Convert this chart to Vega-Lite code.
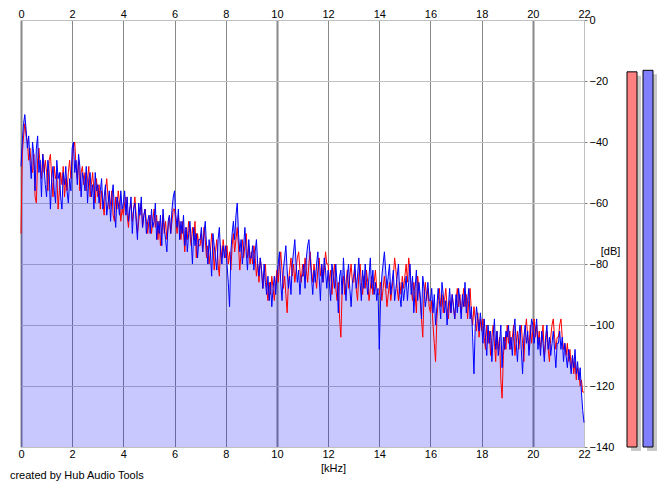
{
  "$schema": "https://vega.github.io/schema/vega-lite/v6.json",
  "background": "white",
  "padding": {"left": 9, "top": 8, "right": 0, "bottom": 0},
  "spacing": 38,
  "bounds": "flush",
  "title": {
    "text": "created by Hub Audio Tools",
    "orient": "bottom",
    "anchor": "start",
    "frame": "bounds",
    "font": "Liberation Sans",
    "fontSize": 11,
    "fontWeight": "normal",
    "color": "#000000",
    "offset": -4,
    "dx": -8
  },
  "hconcat": [
    {
      "width": 563,
      "height": 427,
      "data": {
        "values": [
          {"f":0,"b":-48,"r":-70},{"f":0.05,"b":-40,"r":-44},{"f":0.1,"b":-34,"r":-38},{"f":0.15,"b":-31,"r":-34},{"f":0.2,"b":-36,"r":-38},{"f":0.25,"b":-42,"r":-40},{"f":0.3,"b":-38,"r":-46},{"f":0.35,"b":-46,"r":-42},{"f":0.4,"b":-52,"r":-48},{"f":0.45,"b":-40,"r":-50},
          {"f":0.5,"b":-44,"r":-44},{"f":0.55,"b":-56,"r":-58},{"f":0.6,"b":-42,"r":-60},{"f":0.65,"b":-38,"r":-46},{"f":0.7,"b":-50,"r":-42},{"f":0.75,"b":-46,"r":-48},{"f":0.8,"b":-58,"r":-52},{"f":0.85,"b":-44,"r":-44},{"f":0.9,"b":-48,"r":-50},{"f":0.95,"b":-54,"r":-46},
          {"f":1,"b":-58,"r":-50},{"f":1.05,"b":-46,"r":-56},{"f":1.1,"b":-50,"r":-46},{"f":1.15,"b":-62,"r":-44},{"f":1.2,"b":-52,"r":-52},{"f":1.25,"b":-48,"r":-58},{"f":1.3,"b":-56,"r":-48},{"f":1.35,"b":-60,"r":-52},{"f":1.4,"b":-46,"r":-50},{"f":1.45,"b":-52,"r":-62},
          {"f":1.5,"b":-50,"r":-56},{"f":1.55,"b":-58,"r":-50},{"f":1.6,"b":-62,"r":-54},{"f":1.65,"b":-50,"r":-48},{"f":1.7,"b":-54,"r":-58},{"f":1.75,"b":-48,"r":-52},{"f":1.8,"b":-56,"r":-56},{"f":1.85,"b":-60,"r":-50},{"f":1.9,"b":-52,"r":-46},{"f":1.95,"b":-56,"r":-52},
          {"f":2,"b":-42,"r":-46},{"f":2.05,"b":-40,"r":-42},{"f":2.1,"b":-50,"r":-40},{"f":2.15,"b":-46,"r":-48},{"f":2.2,"b":-54,"r":-52},{"f":2.25,"b":-44,"r":-46},{"f":2.3,"b":-48,"r":-56},{"f":2.35,"b":-58,"r":-50},{"f":2.4,"b":-50,"r":-48},{"f":2.45,"b":-52,"r":-54},
          {"f":2.5,"b":-56,"r":-50},{"f":2.55,"b":-48,"r":-56},{"f":2.6,"b":-60,"r":-52},{"f":2.65,"b":-52,"r":-48},{"f":2.7,"b":-50,"r":-58},{"f":2.75,"b":-58,"r":-54},{"f":2.8,"b":-54,"r":-50},{"f":2.85,"b":-62,"r":-56},{"f":2.9,"b":-50,"r":-60},{"f":2.95,"b":-56,"r":-52},
          {"f":3,"b":-54,"r":-58},{"f":3.05,"b":-60,"r":-54},{"f":3.1,"b":-56,"r":-62},{"f":3.15,"b":-52,"r":-56},{"f":3.2,"b":-62,"r":-60},{"f":3.25,"b":-58,"r":-64},{"f":3.3,"b":-54,"r":-56},{"f":3.35,"b":-64,"r":-52},{"f":3.4,"b":-60,"r":-58},{"f":3.45,"b":-56,"r":-62},
          {"f":3.5,"b":-66,"r":-60},{"f":3.55,"b":-58,"r":-56},{"f":3.6,"b":-54,"r":-64},{"f":3.65,"b":-62,"r":-66},{"f":3.7,"b":-68,"r":-58},{"f":3.75,"b":-58,"r":-62},{"f":3.8,"b":-60,"r":-56},{"f":3.85,"b":-64,"r":-60},{"f":3.9,"b":-56,"r":-66},{"f":3.95,"b":-62,"r":-62},
          {"f":4,"b":-60,"r":-64},{"f":4.05,"b":-56,"r":-60},{"f":4.1,"b":-64,"r":-58},{"f":4.15,"b":-58,"r":-64},{"f":4.2,"b":-66,"r":-68},{"f":4.25,"b":-62,"r":-62},{"f":4.3,"b":-58,"r":-60},{"f":4.35,"b":-70,"r":-66},{"f":4.4,"b":-62,"r":-62},{"f":4.45,"b":-60,"r":-58},
          {"f":4.5,"b":-66,"r":-64},{"f":4.55,"b":-72,"r":-70},{"f":4.6,"b":-60,"r":-66},{"f":4.65,"b":-64,"r":-62},{"f":4.7,"b":-58,"r":-60},{"f":4.75,"b":-68,"r":-68},{"f":4.8,"b":-64,"r":-64},{"f":4.85,"b":-62,"r":-62},{"f":4.9,"b":-70,"r":-66},{"f":4.95,"b":-66,"r":-70},
          {"f":5,"b":-64,"r":-66},{"f":5.05,"b":-70,"r":-64},{"f":5.1,"b":-62,"r":-70},{"f":5.15,"b":-68,"r":-66},{"f":5.2,"b":-66,"r":-62},{"f":5.25,"b":-60,"r":-68},{"f":5.3,"b":-72,"r":-64},{"f":5.35,"b":-66,"r":-72},{"f":5.4,"b":-70,"r":-66},{"f":5.45,"b":-64,"r":-74},
          {"f":5.5,"b":-74,"r":-68},{"f":5.55,"b":-62,"r":-64},{"f":5.6,"b":-68,"r":-70},{"f":5.65,"b":-72,"r":-66},{"f":5.7,"b":-76,"r":-72},{"f":5.75,"b":-66,"r":-68},{"f":5.8,"b":-64,"r":-64},{"f":5.85,"b":-70,"r":-70},{"f":5.9,"b":-62,"r":-66},{"f":5.95,"b":-58,"r":-62},
          {"f":6,"b":-56,"r":-62},{"f":6.05,"b":-64,"r":-66},{"f":6.1,"b":-68,"r":-70},{"f":6.15,"b":-62,"r":-64},{"f":6.2,"b":-72,"r":-68},{"f":6.25,"b":-66,"r":-72},{"f":6.3,"b":-70,"r":-66},{"f":6.35,"b":-64,"r":-70},{"f":6.4,"b":-74,"r":-76},{"f":6.45,"b":-68,"r":-68},
          {"f":6.5,"b":-76,"r":-72},{"f":6.55,"b":-70,"r":-66},{"f":6.6,"b":-66,"r":-70},{"f":6.65,"b":-72,"r":-74},{"f":6.7,"b":-80,"r":-68},{"f":6.75,"b":-68,"r":-72},{"f":6.8,"b":-74,"r":-66},{"f":6.85,"b":-70,"r":-78},{"f":6.9,"b":-78,"r":-70},{"f":6.95,"b":-72,"r":-74},
          {"f":7,"b":-72,"r":-74},{"f":7.05,"b":-68,"r":-70},{"f":7.1,"b":-76,"r":-76},{"f":7.15,"b":-70,"r":-68},{"f":7.2,"b":-66,"r":-72},{"f":7.25,"b":-74,"r":-78},{"f":7.3,"b":-80,"r":-74},{"f":7.35,"b":-72,"r":-80},{"f":7.4,"b":-76,"r":-76},{"f":7.45,"b":-84,"r":-70},
          {"f":7.5,"b":-70,"r":-74},{"f":7.55,"b":-74,"r":-82},{"f":7.6,"b":-78,"r":-76},{"f":7.65,"b":-82,"r":-72},{"f":7.7,"b":-72,"r":-80},{"f":7.75,"b":-68,"r":-84},{"f":7.8,"b":-76,"r":-74},{"f":7.85,"b":-80,"r":-78},{"f":7.9,"b":-74,"r":-72},{"f":7.95,"b":-78,"r":-76},
          {"f":8,"b":-74,"r":-78},{"f":8.05,"b":-80,"r":-74},{"f":8.1,"b":-86,"r":-80},{"f":8.15,"b":-94,"r":-76},{"f":8.2,"b":-76,"r":-82},{"f":8.25,"b":-70,"r":-74},{"f":8.3,"b":-66,"r":-70},{"f":8.35,"b":-72,"r":-76},{"f":8.4,"b":-64,"r":-72},{"f":8.45,"b":-60,"r":-68},
          {"f":8.5,"b":-70,"r":-74},{"f":8.55,"b":-76,"r":-82},{"f":8.6,"b":-72,"r":-76},{"f":8.65,"b":-80,"r":-72},{"f":8.7,"b":-74,"r":-78},{"f":8.75,"b":-68,"r":-74},{"f":8.8,"b":-76,"r":-70},{"f":8.85,"b":-82,"r":-78},{"f":8.9,"b":-72,"r":-74},{"f":8.95,"b":-78,"r":-80},
          {"f":9,"b":-78,"r":-76},{"f":9.05,"b":-74,"r":-80},{"f":9.1,"b":-82,"r":-74},{"f":9.15,"b":-76,"r":-78},{"f":9.2,"b":-72,"r":-84},{"f":9.25,"b":-80,"r":-80},{"f":9.3,"b":-84,"r":-86},{"f":9.35,"b":-78,"r":-78},{"f":9.4,"b":-82,"r":-82},{"f":9.45,"b":-88,"r":-88},
          {"f":9.5,"b":-80,"r":-84},{"f":9.55,"b":-86,"r":-80},{"f":9.6,"b":-90,"r":-88},{"f":9.65,"b":-84,"r":-92},{"f":9.7,"b":-92,"r":-86},{"f":9.75,"b":-86,"r":-90},{"f":9.8,"b":-94,"r":-84},{"f":9.85,"b":-88,"r":-88},{"f":9.9,"b":-84,"r":-92},{"f":9.95,"b":-90,"r":-86},
          {"f":10,"b":-84,"r":-82},{"f":10.05,"b":-80,"r":-86},{"f":10.1,"b":-76,"r":-80},{"f":10.15,"b":-86,"r":-76},{"f":10.2,"b":-92,"r":-82},{"f":10.25,"b":-82,"r":-88},{"f":10.3,"b":-78,"r":-84},{"f":10.35,"b":-74,"r":-90},{"f":10.4,"b":-82,"r":-96},{"f":10.45,"b":-88,"r":-86},
          {"f":10.5,"b":-84,"r":-82},{"f":10.55,"b":-90,"r":-78},{"f":10.6,"b":-80,"r":-84},{"f":10.65,"b":-76,"r":-80},{"f":10.7,"b":-72,"r":-86},{"f":10.75,"b":-80,"r":-82},{"f":10.8,"b":-86,"r":-78},{"f":10.85,"b":-82,"r":-76},{"f":10.9,"b":-90,"r":-82},{"f":10.95,"b":-84,"r":-86},
          {"f":11,"b":-84,"r":-80},{"f":11.05,"b":-80,"r":-84},{"f":11.1,"b":-88,"r":-78},{"f":11.15,"b":-78,"r":-82},{"f":11.2,"b":-74,"r":-86},{"f":11.25,"b":-72,"r":-80},{"f":11.3,"b":-78,"r":-76},{"f":11.35,"b":-84,"r":-82},{"f":11.4,"b":-90,"r":-86},{"f":11.45,"b":-82,"r":-80},
          {"f":11.5,"b":-86,"r":-84},{"f":11.55,"b":-80,"r":-88},{"f":11.6,"b":-76,"r":-82},{"f":11.65,"b":-84,"r":-78},{"f":11.7,"b":-92,"r":-84},{"f":11.75,"b":-80,"r":-80},{"f":11.8,"b":-86,"r":-86},{"f":11.85,"b":-78,"r":-82},{"f":11.9,"b":-82,"r":-76},{"f":11.95,"b":-88,"r":-80},
          {"f":12,"b":-82,"r":-80},{"f":12.05,"b":-86,"r":-86},{"f":12.1,"b":-92,"r":-82},{"f":12.15,"b":-80,"r":-90},{"f":12.2,"b":-84,"r":-84},{"f":12.25,"b":-88,"r":-80},{"f":12.3,"b":-80,"r":-88},{"f":12.35,"b":-86,"r":-92},{"f":12.4,"b":-96,"r":-86},{"f":12.45,"b":-84,"r":-98},
          {"f":12.5,"b":-82,"r":-104},{"f":12.55,"b":-90,"r":-88},{"f":12.6,"b":-78,"r":-84},{"f":12.65,"b":-86,"r":-90},{"f":12.7,"b":-92,"r":-86},{"f":12.75,"b":-84,"r":-82},{"f":12.8,"b":-80,"r":-88},{"f":12.85,"b":-88,"r":-84},{"f":12.9,"b":-94,"r":-80},{"f":12.95,"b":-86,"r":-86},
          {"f":13,"b":-84,"r":-86},{"f":13.05,"b":-80,"r":-82},{"f":13.1,"b":-88,"r":-88},{"f":13.15,"b":-84,"r":-92},{"f":13.2,"b":-78,"r":-84},{"f":13.25,"b":-86,"r":-80},{"f":13.3,"b":-92,"r":-86},{"f":13.35,"b":-82,"r":-90},{"f":13.4,"b":-88,"r":-84},{"f":13.45,"b":-80,"r":-88},
          {"f":13.5,"b":-86,"r":-82},{"f":13.55,"b":-90,"r":-86},{"f":13.6,"b":-84,"r":-92},{"f":13.65,"b":-78,"r":-88},{"f":13.7,"b":-88,"r":-84},{"f":13.75,"b":-82,"r":-90},{"f":13.8,"b":-90,"r":-86},{"f":13.85,"b":-86,"r":-82},{"f":13.9,"b":-92,"r":-88},{"f":13.95,"b":-88,"r":-90},
          {"f":14,"b":-108,"r":-90},{"f":14.05,"b":-92,"r":-86},{"f":14.1,"b":-84,"r":-92},{"f":14.15,"b":-80,"r":-88},{"f":14.2,"b":-76,"r":-84},{"f":14.25,"b":-82,"r":-88},{"f":14.3,"b":-88,"r":-94},{"f":14.35,"b":-84,"r":-90},{"f":14.4,"b":-80,"r":-86},{"f":14.45,"b":-90,"r":-92},
          {"f":14.5,"b":-86,"r":-88},{"f":14.55,"b":-82,"r":-84},{"f":14.6,"b":-92,"r":-78},{"f":14.65,"b":-88,"r":-82},{"f":14.7,"b":-84,"r":-88},{"f":14.75,"b":-80,"r":-92},{"f":14.8,"b":-90,"r":-86},{"f":14.85,"b":-94,"r":-90},{"f":14.9,"b":-86,"r":-84},{"f":14.95,"b":-92,"r":-88},
          {"f":15,"b":-88,"r":-84},{"f":15.05,"b":-84,"r":-80},{"f":15.1,"b":-92,"r":-86},{"f":15.15,"b":-86,"r":-78},{"f":15.2,"b":-80,"r":-82},{"f":15.25,"b":-90,"r":-88},{"f":15.3,"b":-84,"r":-92},{"f":15.35,"b":-96,"r":-86},{"f":15.4,"b":-88,"r":-90},{"f":15.45,"b":-82,"r":-96},
          {"f":15.5,"b":-92,"r":-84},{"f":15.55,"b":-86,"r":-88},{"f":15.6,"b":-90,"r":-92},{"f":15.65,"b":-98,"r":-98},{"f":15.7,"b":-84,"r":-104},{"f":15.75,"b":-88,"r":-90},{"f":15.8,"b":-94,"r":-86},{"f":15.85,"b":-90,"r":-92},{"f":15.9,"b":-86,"r":-88},{"f":15.95,"b":-92,"r":-94},
          {"f":16,"b":-92,"r":-96},{"f":16.05,"b":-88,"r":-92},{"f":16.1,"b":-96,"r":-100},{"f":16.15,"b":-90,"r":-106},{"f":16.2,"b":-100,"r":-112},{"f":16.25,"b":-94,"r":-98},{"f":16.3,"b":-88,"r":-92},{"f":16.35,"b":-92,"r":-88},{"f":16.4,"b":-98,"r":-94},{"f":16.45,"b":-86,"r":-90},
          {"f":16.5,"b":-90,"r":-96},{"f":16.55,"b":-96,"r":-92},{"f":16.6,"b":-92,"r":-88},{"f":16.65,"b":-100,"r":-94},{"f":16.7,"b":-94,"r":-98},{"f":16.75,"b":-88,"r":-92},{"f":16.8,"b":-96,"r":-96},{"f":16.85,"b":-90,"r":-90},{"f":16.9,"b":-94,"r":-94},{"f":16.95,"b":-98,"r":-98},
          {"f":17,"b":-90,"r":-92},{"f":17.05,"b":-96,"r":-88},{"f":17.1,"b":-88,"r":-94},{"f":17.15,"b":-92,"r":-90},{"f":17.2,"b":-98,"r":-96},{"f":17.25,"b":-90,"r":-92},{"f":17.3,"b":-94,"r":-88},{"f":17.35,"b":-86,"r":-94},{"f":17.4,"b":-96,"r":-90},{"f":17.45,"b":-92,"r":-98},
          {"f":17.5,"b":-88,"r":-92},{"f":17.55,"b":-98,"r":-88},{"f":17.6,"b":-94,"r":-96},{"f":17.65,"b":-104,"r":-100},{"f":17.7,"b":-116,"r":-94},{"f":17.75,"b":-100,"r":-98},{"f":17.8,"b":-94,"r":-102},{"f":17.85,"b":-98,"r":-96},{"f":17.9,"b":-102,"r":-104},{"f":17.95,"b":-96,"r":-98},
          {"f":18,"b":-100,"r":-102},{"f":18.05,"b":-106,"r":-98},{"f":18.1,"b":-98,"r":-104},{"f":18.15,"b":-104,"r":-108},{"f":18.2,"b":-110,"r":-100},{"f":18.25,"b":-100,"r":-106},{"f":18.3,"b":-106,"r":-102},{"f":18.35,"b":-102,"r":-110},{"f":18.4,"b":-112,"r":-104},{"f":18.45,"b":-104,"r":-100},
          {"f":18.5,"b":-98,"r":-106},{"f":18.55,"b":-108,"r":-112},{"f":18.6,"b":-102,"r":-102},{"f":18.65,"b":-110,"r":-108},{"f":18.7,"b":-106,"r":-104},{"f":18.75,"b":-100,"r":-118},{"f":18.8,"b":-114,"r":-124},{"f":18.85,"b":-104,"r":-110},{"f":18.9,"b":-108,"r":-104},{"f":18.95,"b":-102,"r":-108},
          {"f":19,"b":-104,"r":-100},{"f":19.05,"b":-100,"r":-106},{"f":19.1,"b":-108,"r":-102},{"f":19.15,"b":-104,"r":-108},{"f":19.2,"b":-110,"r":-104},{"f":19.25,"b":-102,"r":-100},{"f":19.3,"b":-98,"r":-110},{"f":19.35,"b":-106,"r":-106},{"f":19.4,"b":-112,"r":-102},{"f":19.45,"b":-104,"r":-108},
          {"f":19.5,"b":-100,"r":-104},{"f":19.55,"b":-108,"r":-100},{"f":19.6,"b":-116,"r":-106},{"f":19.65,"b":-104,"r":-112},{"f":19.7,"b":-100,"r":-102},{"f":19.75,"b":-106,"r":-98},{"f":19.8,"b":-102,"r":-104},{"f":19.85,"b":-110,"r":-108},{"f":19.9,"b":-104,"r":-100},{"f":19.95,"b":-98,"r":-106},
          {"f":20,"b":-100,"r":-102},{"f":20.05,"b":-106,"r":-98},{"f":20.1,"b":-102,"r":-104},{"f":20.15,"b":-98,"r":-100},{"f":20.2,"b":-108,"r":-106},{"f":20.25,"b":-104,"r":-102},{"f":20.3,"b":-110,"r":-108},{"f":20.35,"b":-102,"r":-104},{"f":20.4,"b":-106,"r":-100},{"f":20.45,"b":-112,"r":-110},
          {"f":20.5,"b":-104,"r":-106},{"f":20.55,"b":-100,"r":-102},{"f":20.6,"b":-108,"r":-108},{"f":20.65,"b":-104,"r":-112},{"f":20.7,"b":-110,"r":-104},{"f":20.75,"b":-106,"r":-100},{"f":20.8,"b":-102,"r":-98},{"f":20.85,"b":-108,"r":-104},{"f":20.9,"b":-114,"r":-108},{"f":20.95,"b":-106,"r":-104},
          {"f":21,"b":-106,"r":-104},{"f":21.05,"b":-102,"r":-100},{"f":21.1,"b":-108,"r":-98},{"f":21.15,"b":-104,"r":-104},{"f":21.2,"b":-112,"r":-108},{"f":21.25,"b":-106,"r":-106},{"f":21.3,"b":-110,"r":-110},{"f":21.35,"b":-114,"r":-106},{"f":21.4,"b":-108,"r":-112},{"f":21.45,"b":-112,"r":-108},
          {"f":21.5,"b":-116,"r":-114},{"f":21.55,"b":-110,"r":-110},{"f":21.6,"b":-114,"r":-116},{"f":21.65,"b":-108,"r":-112},{"f":21.7,"b":-116,"r":-118},{"f":21.75,"b":-112,"r":-114},{"f":21.8,"b":-118,"r":-116},{"f":21.85,"b":-114,"r":-120},{"f":21.9,"b":-122,"r":-118},{"f":21.95,"b":-128,"r":-122},
          {"f":22,"b":-132,"r":-122}
        ]
      },
      "layer": [
        {
          "mark": {"type": "area", "color": "#0000ff", "opacity": 0.215},
          "encoding": {
            "x": {
              "field": "f",
              "type": "quantitative",
              "scale": {"domain": [0, 22], "nice": false, "zero": false},
              "axis": {
                "orient": "top",
                "values": [0, 2, 4, 6, 8, 10, 12, 14, 16, 18, 20, 22],
                "grid": true,
                "gridColor": {"condition": {"test": "datum.value === 22", "value": "#c0c0c0"}, "value": "#888888"},
                "gridWidth": {"condition": {"test": "datum.value % 10 === 0", "value": 2}, "value": 1},
                "gridOpacity": 1,
                "domain": false,
                "ticks": false,
                "labelPadding": 1,
                "labelFlush": false,
                "labelOverlap": false,
                "title": null
              }
            },
            "y": {
              "field": "b",
              "type": "quantitative",
              "scale": {"domain": [-140, 0], "nice": false, "zero": false},
              "axis": {
                "orient": "right",
                "values": [0, -20, -40, -60, -80, -100, -120, -140],
                "grid": true,
                "gridColor": "#c0c0c0",
                "gridOpacity": 1,
                "domain": true,
                "domainColor": "#c0c0c0",
                "ticks": true,
                "tickSize": 3,
                "tickColor": "#808080",
                "labelPadding": 2,
                "labelFlush": false,
                "labelOverlap": false,
                "title": "[dB]",
                "titleAngle": 0,
                "titleX": 26,
                "titleY": 231,
                "titleAlign": "center",
                "titleBaseline": "middle"
              }
            },
            "y2": {"datum": -140}
          }
        },
        {
          "mark": {"type": "line", "color": "#ff0000", "strokeWidth": 1},
          "encoding": {
            "x": {
              "field": "f",
              "type": "quantitative",
              "axis": {
                "orient": "bottom",
                "values": [0, 2, 4, 6, 8, 10, 12, 14, 16, 18, 20, 22],
                "grid": false,
                "domain": false,
                "ticks": false,
                "labelPadding": 1,
                "labelFlush": false,
                "labelOverlap": false,
                "title": "[kHz]",
                "titleX": 312,
                "titleY": 21.5,
                "titleAlign": "center",
                "titleBaseline": "middle"
              }
            },
            "y": {"field": "r", "type": "quantitative", "axis": null}
          }
        },
        {
          "mark": {"type": "line", "color": "#0000ff", "strokeWidth": 1},
          "encoding": {
            "x": {"field": "f", "type": "quantitative", "axis": null},
            "y": {"field": "b", "type": "quantitative", "axis": null}
          }
        }
      ],
      "resolve": {"axis": {"x": "independent", "y": "independent"}}
    },
    {
      "width": 36,
      "height": 427,
      "data": {"values": [{"ch": "L", "v": -17}, {"ch": "R", "v": -16.5}]},
      "layer": [
        {
          "mark": {"type": "bar", "color": "#c8c8c8"},
          "encoding": {
            "x": {"field": "ch", "type": "nominal", "axis": null, "scale": {"paddingInner": 0.375, "paddingOuter": 0.3125, "align": 0.9}},
            "y": {"field": "v", "type": "quantitative", "axis": null, "scale": {"domain": [-138.69, 1.31], "nice": false, "zero": false}},
            "y2": {"datum": -140}
          }
        },
        {
          "mark": {"type": "bar", "stroke": "#000000", "strokeWidth": 1},
          "encoding": {
            "x": {"field": "ch", "type": "nominal", "axis": null, "scale": {"paddingInner": 0.375, "paddingOuter": 0.3125}},
            "y": {"field": "v", "type": "quantitative", "axis": null, "scale": {"domain": [-140, 0], "nice": false, "zero": false}},
            "y2": {"datum": -140},
            "color": {"field": "ch", "type": "nominal", "legend": null, "scale": {"range": ["#ff8080", "#8080ff"]}}
          }
        }
      ],
      "resolve": {"scale": {"x": "independent", "y": "independent"}}
    }
  ],
  "config": {
    "view": {"stroke": null},
    "axis": {
      "labelFont": "Liberation Sans",
      "labelFontSize": 11,
      "labelColor": "#000000",
      "titleFont": "Liberation Sans",
      "titleFontSize": 11,
      "titleFontWeight": "normal",
      "titleColor": "#000000"
    }
  }
}
